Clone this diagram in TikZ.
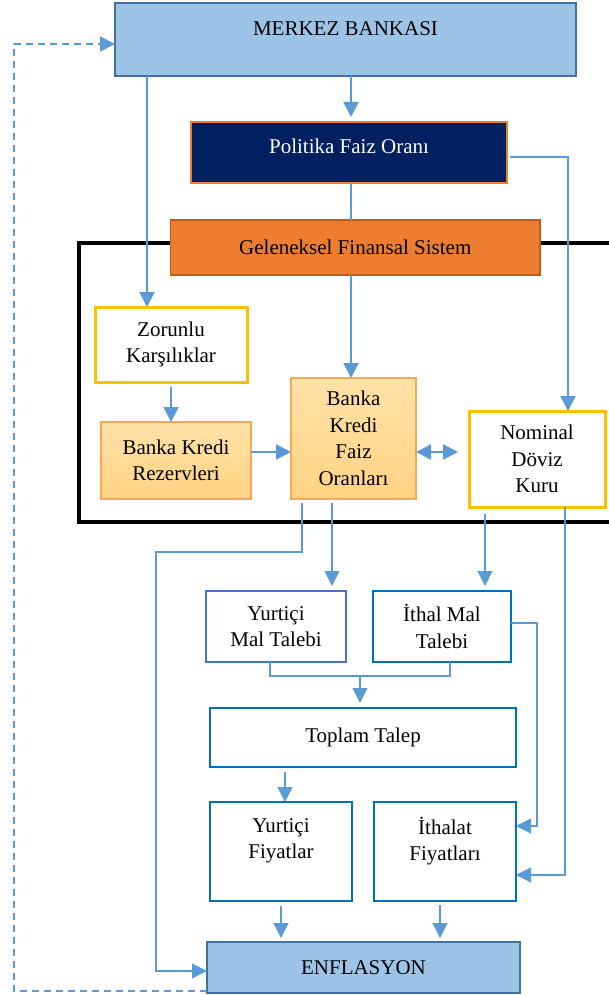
\documentclass[tikz,border=0pt]{standalone}
\usepackage{fontspec}
\setmainfont{Liberation Serif}
\usetikzlibrary{arrows.meta}
\definecolor{mbfill}{HTML}{9DC3E6}
\definecolor{mbdraw}{HTML}{41719C}
\definecolor{navyc}{HTML}{002060}
\definecolor{orng}{HTML}{ED7D31}
\definecolor{orngdark}{HTML}{C55A11}
\definecolor{ylw}{HTML}{FFC000}
\definecolor{lorangetop}{HTML}{FFE2A8}
\definecolor{lorangebot}{HTML}{FFD383}
\definecolor{lorangedraw}{HTML}{F4A952}
\definecolor{bluedraw}{HTML}{0070C0}
\definecolor{bluedrawb}{HTML}{4472C4}
\definecolor{connc}{HTML}{5B9BD5}
\begin{document}
\begin{tikzpicture}[x=1pt,y=-1pt,
  tfont/.style={font=\fontsize{21}{26.5}\selectfont},
  bx/.style={tfont, draw, inner sep=0pt, outer sep=0pt, align=center},
  txt/.style={tfont, inner sep=0pt, align=center},
  lbluebox/.style={bx, fill=mbfill, draw=mbdraw, line width=2.5pt},
  navybox/.style={bx, fill=navyc, draw=orng, line width=1.2pt, text=white},
  orangebox/.style={bx, fill=orng, draw=orngdark, line width=1.5pt},
  ylwbox/.style={bx, fill=white, draw=ylw, line width=3pt},
  lorbox/.style={bx, top color=lorangetop, bottom color=lorangebot, draw=lorangedraw, line width=1.5pt},
  bluebox/.style={bx, fill=white, draw=bluedraw, line width=2.5pt},
  tip/.style={-{Triangle[width=15pt,length=15pt]}},
  cthick/.style={draw=connc, line width=2.2pt, tip},
  cmid/.style={draw=connc, line width=1.5pt, tip},
  cthin/.style={draw=connc, line width=1.1pt, tip},
  cdash/.style={draw=connc, line width=2pt, dash pattern=on 7pt off 5pt, tip}
]
\useasboundingbox (0,0) rectangle (608,995);

% frame
\draw[line width=4pt, black] (614,243) -- (79,243) -- (79,522) -- (614,522);

% boxes
\node[lbluebox, minimum width=461pt, minimum height=73pt] (mb) at (345.5,39.5) {};
\node[txt] (mbt) at (345.5,29) {MERKEZ BANKASI};
\node[navybox, minimum width=316pt, minimum height=61pt] (pfo) at (349,152.5) {};
\node[txt, text=white] (pfot) at (349,146) {Politika Faiz Oranı};
\node[orangebox, minimum width=369.5pt, minimum height=55pt] (gfs) at (355.25,247.5) {Geleneksel Finansal Sistem};
\node[ylwbox, minimum width=152pt, minimum height=75pt] (zk) at (171,344.5) {Zorunlu\\Karşılıklar};
\node[lorbox, minimum width=150pt, minimum height=77pt] (bkr) at (176,460.5) {Banka Kredi\\Rezervleri};
\node[lorbox, minimum width=125pt, minimum height=121pt] (bkfo) at (353.5,438.5) {Banka\\Kredi\\Faiz\\Oranları};
\node[ylwbox, minimum width=136pt, minimum height=96pt] (ndk) at (537,459) {Nominal\\Döviz\\Kuru};
\node[bluebox, draw=bluedrawb, minimum width=140pt, minimum height=71pt] (ymt) at (276,626.5) {Yurtiçi\\Mal Talebi};
\node[bluebox, minimum width=138pt, minimum height=71pt] (imt) at (442,626.5) {İthal Mal\\Talebi};
\node[bluebox, minimum width=306pt, minimum height=59pt] (tt) at (363,737.5) {Toplam Talep};
\node[bluebox, minimum width=142pt, minimum height=99pt] (yf) at (281,851.5) {};
\node[txt] (yft) at (281,841) {Yurtiçi\\Fiyatlar};
\node[bluebox, minimum width=142pt, minimum height=99pt] (itf) at (445,851.5) {};
\node[txt] (itft) at (445,841) {İthalat\\Fiyatları};
\node[lbluebox, minimum width=313pt, minimum height=51pt] (enf) at (363.5,967.5) {ENFLASYON};

% lane coordinates
\coordinate (lA) at (147,0);
\coordinate (lB) at (351,0);
\coordinate (lC) at (568,157);
\coordinate (lD) at (0,452);
\coordinate (lE) at (302,552);
\coordinate (lE2) at (156,552);
\coordinate (eA) at (0,971);
\coordinate (lF) at (332,0);
\coordinate (lG) at (485,0);
\coordinate (lH) at (565,0);
\coordinate (fA) at (0,875);
\coordinate (lI) at (537,623);
\coordinate (fB) at (0,826);
\coordinate (mA) at (270,676);
\coordinate (mB) at (450,676);
\coordinate (mC) at (360,676);
\coordinate (lJ) at (285,0);
\coordinate (lK) at (281,0);
\coordinate (lL) at (440,0);
\coordinate (dA) at (14,991);
\coordinate (dB) at (14,44);

% connectors
\draw[cthick] (mb.south -| lA) -- (zk.north -| lA);
\draw[cthick, shorten >=5pt] (mb.south -| lB) -- (pfo.north -| lB);
\draw[cthick, -] (pfo.south -| lB) -- (gfs.north -| lB);
\draw[cthick] (gfs.south -| lB) -- (bkfo.north -| lB);
\draw[cthick, shorten <=3pt] (pfo.east |- lC) -- (lC) -- (ndk.north -| lC);
\draw[cthick, shorten <=5pt] (zk.south) -- (bkr.north -| zk.south);
\draw[cthick] (bkr.east |- lD) -- (bkfo.west |- lD);
\draw[cthick, {Triangle[width=15pt,length=15pt]}-{Triangle[width=15pt,length=15pt]}, shorten >=11pt] (bkfo.east |- lD) -- (ndk.west |- lD);

\draw[cthin, shorten <=4pt] (bkfo.south -| lE) -- (lE) -- (lE2) -- (lE2 |- eA) -- (enf.west |- eA);
\draw[cthin, shorten <=4pt, shorten >=5pt] (bkfo.south -| lF) -- (ymt.north -| lF);
\draw[cthin, shorten <=7pt, shorten >=5pt] (ndk.south -| lG) -- (imt.north -| lG);
\draw[cthin] (ndk.south -| lH) -- (lH |- fA) -- (itf.east |- fA);
\draw[cthin] (imt.east |- lI) -- (lI) -- (lI |- fB) -- (itf.east |- fB);
\draw[cthin, -] (ymt.south -| mA) -- (mA) -- (mB) -- (imt.south -| mB);
\draw[cthin, shorten >=5pt] (mC) -- (tt.north -| mC);
\draw[cmid, shorten <=5pt] (tt.south -| lJ) -- (yf.north -| lJ);
\draw[cmid, shorten <=5pt, shorten >=4pt] (yf.south -| lK) -- (enf.north -| lK);
\draw[cmid, shorten <=4pt, shorten >=4pt] (itf.south -| lL) -- (enf.north -| lL);

\draw[cdash] (enf.west |- dA) -- (dA) -- (dB) -- (mb.west |- dB);
\end{tikzpicture}
\end{document}
